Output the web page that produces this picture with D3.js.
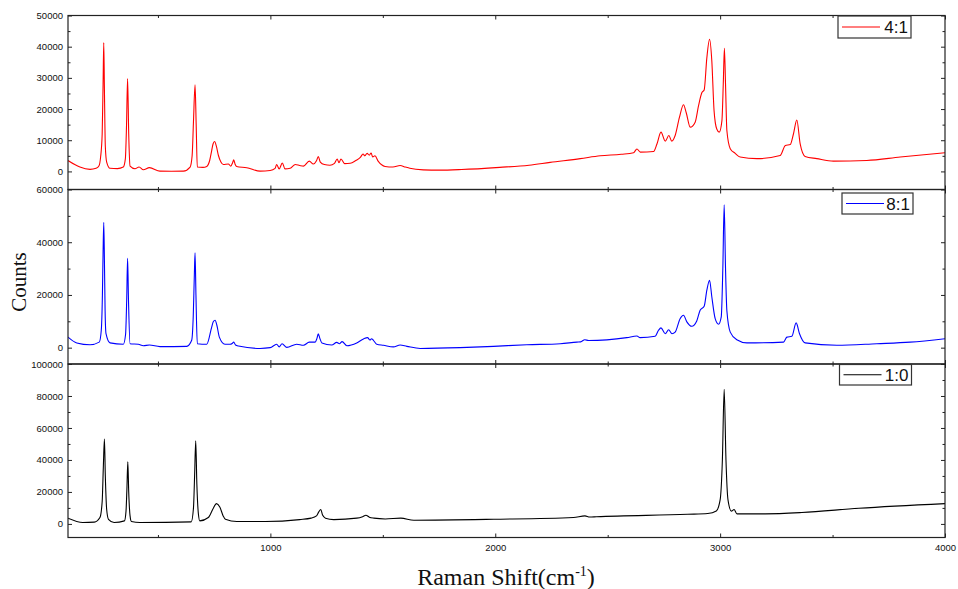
<!DOCTYPE html>
<html>
<head>
<meta charset="utf-8">
<script src="https://cdn.jsdelivr.net/npm/d3@7"></script>
<style>
  html, body { margin: 0; padding: 0; background: #ffffff; }
  svg { display: block; }
  .tick text { font-family: "Liberation Sans", Arial, sans-serif; }
</style>
</head>
<body>
<svg id="chart" width="958" height="589"></svg>
<script>
// ---------------- DATA ----------------
const seriesNames = ["4:1", "8:1", "1:0"];

const shiftRed = [100,130,153,198,225,238,245,252,256,259,262,266,272,287,320,346,355,360,365,370,376,398,416,435,462,509,560,613,643,652,658,665,670,675,700,717,730,739,745,752,760,769,780,791,813,824,832,837,843,850,895,954,999,1021,1028,1039,1053,1065,1088,1111,1130,1147,1173,1191,1205,1213,1222,1240,1265,1285,1297,1305,1314,1330,1355,1380,1400,1412,1420,1430,1440,1448,1455,1465,1480,1510,1545,1577,1600,1620,1680,1750,1850,2020,2150,2244,2378,2467,2560,2615,2630,2645,2704,2719,2737,2756,2772,2785,2800,2819,2837,2849,2867,2889,2904,2919,2929,2941,2953,2963,2973,2985,2996,3008,3014,3019,3024,3030,3045,3067,3089,3164,3267,3290,3312,3326,3341,3356,3378,3430,3504,3652,3801,4000];
const countsRed = [3500,2200,1400,650,1000,1800,4600,12000,28000,41300,26000,8000,3000,1000,900,1400,4000,14000,29800,12000,1700,850,1400,530,1200,100,50,100,1400,5000,16000,27800,15000,1400,1300,1600,3500,6700,8800,9600,8000,5100,3000,2200,2400,1700,2800,3700,2300,1600,1200,100,300,1000,2200,800,2700,800,1000,2200,1900,1700,3300,2400,3400,4800,3000,2200,2000,2600,4000,2800,4000,2500,2600,3500,4500,5600,5000,5800,5200,5900,4600,5000,3200,1600,1400,1900,1400,1000,500,400,600,1300,2000,2900,4100,5000,5500,6000,7200,6200,6400,8800,12600,9700,11500,9700,11500,17300,21400,18900,14200,15800,21100,25300,26100,36500,42400,35500,19500,13600,12600,16300,28000,39500,28000,13100,7300,5800,4600,4100,5100,8300,8600,12000,16500,8800,4800,4100,3300,3500,4600,6000];

const shiftBlue = [100,139,198,239,248,253,256,259,262,265,269,287,346,356,361,365,369,376,413,435,462,509,628,650,657,662,665,669,675,717,739,746,754,762,773,798,821,830,837,845,858,954,999,1028,1039,1052,1073,1117,1147,1173,1199,1207,1213,1220,1229,1273,1295,1307,1319,1340,1384,1414,1432,1443,1450,1458,1473,1503,1547,1577,1607,1666,1844,1992,2140,2289,2363,2380,2398,2415,2585,2630,2644,2711,2726,2737,2756,2771,2786,2800,2822,2837,2852,2874,2896,2911,2929,2941,2953,2963,2978,2993,3005,3012,3018,3024,3030,3045,3074,3119,3282,3297,3319,3338,3353,3378,3519,3697,3845,4000];
const countsBlue = [4000,1800,1100,2100,6600,20000,36000,47500,33000,14000,5300,1800,1300,5000,18000,33900,18000,1500,1300,750,1000,380,500,2800,12000,28000,36000,20000,1500,1300,7800,9800,10400,8500,4000,1300,1300,1600,2100,1000,600,-300,0,1300,300,1500,100,1300,900,2100,2100,3500,5300,3500,1800,1000,2000,1500,2300,750,1800,3300,3800,2900,3400,2800,1300,900,300,1000,500,-300,0,500,1100,1500,2100,2200,3000,2700,3800,4400,3800,4300,6600,7500,5300,6800,5300,5900,11000,12300,9800,8100,10100,14200,15700,21800,25600,19300,11000,8900,11700,30000,54200,30000,14000,5900,3000,1800,2100,4000,4300,9400,5300,1800,900,1500,2100,3400];

const shiftBlack = [100,166,217,242,252,257,262,266,272,280,305,351,358,362,366,370,376,382,420,648,658,663,668,673,680,686,724,745,760,775,790,800,851,978,1130,1181,1205,1215,1224,1232,1245,1282,1384,1410,1425,1440,1460,1511,1580,1638,1993,2348,2399,2420,2450,2856,2945,2983,3000,3010,3018,3026,3035,3050,3062,3075,3200,3363,3617,4000];
const countsBlack = [3600,900,1100,4000,14000,35000,53100,30000,9000,2900,900,1900,8000,22000,38800,20000,5000,1500,900,1300,10000,30000,51900,25000,6000,1900,4000,9500,12700,10600,5000,2900,1500,1500,2700,3600,5000,7500,9000,5500,3600,2700,3600,4500,5400,4200,3600,3100,3600,2300,2900,4000,5000,4300,4500,6000,6500,8100,15000,40000,84200,40000,15000,8000,9000,6300,6300,7100,9800,12700];

const xTickLabels = [1000, 2000, 3000, 4000];
const xMinorTicks = [500, 1500, 2500, 3500];
const yTicksTop = [0, 10000, 20000, 30000, 40000, 50000];
const yTicksMid = [0, 20000, 40000, 60000];
const yTicksBot = [0, 20000, 40000, 60000, 80000, 100000];

// ---------------- LAYOUT ----------------
const svg = d3.select("#chart");
const X0 = 68, X1 = 945;
const x = d3.scaleLinear().domain([100, 4000]).range([X0, X1]);

const panels = [
  { name: seriesNames[0], xs: shiftRed, ys: countsRed, color: "#ff0000",
    domain: [-5800, 50000], top: 15.5, bottom: 189.5, ticks: yTicksTop, minorStep: 5000,
    legend: { x: 838, y: 16, w: 73, h: 22 } },
  { name: seriesNames[1], xs: shiftBlue, ys: countsBlue, color: "#0000ff",
    domain: [-6200, 60000], top: 189.5, bottom: 364, ticks: yTicksMid, minorStep: 10000,
    legend: { x: 842, y: 193, w: 71, h: 21 } },
  { name: seriesNames[2], xs: shiftBlack, ys: countsBlack, color: "#000000",
    domain: [-8500, 100000], top: 364, bottom: 537.5, ticks: yTicksBot, minorStep: 10000,
    legend: { x: 839.5, y: 364.5, w: 72, h: 20.5 } }
];

const defs = svg.append("defs");

panels.forEach((p, i) => {
  const y = d3.scaleLinear().domain(p.domain).range([p.bottom, p.top]);
  const g = svg.append("g");

  defs.append("clipPath").attr("id", "clip" + i)
    .append("rect").attr("x", X0).attr("y", p.top).attr("width", X1 - X0).attr("height", p.bottom - p.top);

  // data line
  const pts = p.xs.map((v, k) => [v, p.ys[k]]);
  const line = d3.line().x(d => x(d[0])).y(d => y(d[1])).curve(d3.curveMonotoneX);
  g.append("path").datum(pts)
    .attr("clip-path", "url(#clip" + i + ")")
    .attr("d", line)
    .attr("fill", "none")
    .attr("stroke", p.color)
    .attr("stroke-width", 1.1)
    .attr("stroke-linejoin", "round");

  // minor y ticks
  const minors = d3.range(p.domain[0] < 0 ? 0 : p.domain[0], p.domain[1] + 1, p.minorStep)
    .filter(v => !p.ticks.includes(v));
  // left axis
  const yAxisL = d3.axisLeft(y).tickValues(p.ticks).tickSizeInner(-4).tickSizeOuter(0).tickPadding(5)
    .tickFormat(d3.format("d"));
  const gl = g.append("g").attr("transform", `translate(${X0},0)`).call(yAxisL);
  gl.select(".domain").remove();
  gl.selectAll(".tick text").attr("font-size", "9.5px").attr("fill", "#111");
  gl.selectAll(".tick line").attr("stroke", "#222");
  const glm = g.append("g").attr("transform", `translate(${X0},0)`)
    .call(d3.axisLeft(y).tickValues(minors).tickSizeInner(-2.5).tickSizeOuter(0).tickFormat(""));
  glm.select(".domain").remove();
  glm.selectAll(".tick line").attr("stroke", "#222");

  // right axis ticks
  const gr = g.append("g").attr("transform", `translate(${X1},0)`)
    .call(d3.axisRight(y).tickValues(p.ticks).tickSizeInner(-4).tickSizeOuter(0).tickFormat(""));
  gr.select(".domain").remove();
  gr.selectAll(".tick line").attr("stroke", "#222");
  const grm = g.append("g").attr("transform", `translate(${X1},0)`)
    .call(d3.axisRight(y).tickValues(minors).tickSizeInner(-2.5).tickSizeOuter(0).tickFormat(""));
  grm.select(".domain").remove();
  grm.selectAll(".tick line").attr("stroke", "#222");

  // bottom x axis ticks (labels only on last panel)
  const isLast = i === panels.length - 1;
  const xb = g.append("g").attr("transform", `translate(0,${p.bottom})`)
    .call(d3.axisBottom(x).tickValues(xTickLabels).tickSizeInner(-4).tickSizeOuter(0).tickPadding(7)
      .tickFormat(isLast ? d3.format("d") : () => ""));
  xb.select(".domain").remove();
  xb.selectAll(".tick line").attr("stroke", "#222");
  xb.selectAll(".tick text").attr("font-size", "9.5px").attr("fill", "#111");
  const xbm = g.append("g").attr("transform", `translate(0,${p.bottom})`)
    .call(d3.axisBottom(x).tickValues(xMinorTicks).tickSizeInner(-2.5).tickSizeOuter(0).tickFormat(""));
  xbm.select(".domain").remove();
  xbm.selectAll(".tick line").attr("stroke", "#222");

  // top x axis ticks
  const xt = g.append("g").attr("transform", `translate(0,${p.top})`)
    .call(d3.axisTop(x).tickValues(xTickLabels).tickSizeInner(-4).tickSizeOuter(0).tickFormat(""));
  xt.select(".domain").remove();
  xt.selectAll(".tick line").attr("stroke", "#222");
  const xtm = g.append("g").attr("transform", `translate(0,${p.top})`)
    .call(d3.axisTop(x).tickValues(xMinorTicks).tickSizeInner(-2.5).tickSizeOuter(0).tickFormat(""));
  xtm.select(".domain").remove();
  xtm.selectAll(".tick line").attr("stroke", "#222");

  // frame
  g.append("rect")
    .attr("x", X0).attr("y", p.top).attr("width", X1 - X0).attr("height", p.bottom - p.top)
    .attr("fill", "none").attr("stroke", "#222").attr("stroke-width", 1.2);

  // legend
  const L = p.legend;
  const lg = g.append("g");
  lg.append("rect").attr("x", L.x).attr("y", L.y).attr("width", L.w).attr("height", L.h)
    .attr("fill", "#fff").attr("stroke", "#333").attr("stroke-width", 1.2);
  lg.append("line").attr("x1", L.x + 4).attr("x2", L.x + 42).attr("y1", L.y + L.h / 2).attr("y2", L.y + L.h / 2)
    .attr("stroke", p.color).attr("stroke-width", 1.2);
  lg.append("text").attr("x", L.x + L.w - 3).attr("y", L.y + L.h / 2 + 6)
    .attr("text-anchor", "end")
    .attr("font-family", "Liberation Sans, Arial, sans-serif")
    .attr("font-size", "17px").attr("fill", "#111")
    .text(p.name);
});

// axis titles
svg.append("text")
  .attr("transform", "translate(26,282) rotate(-90)")
  .attr("text-anchor", "middle")
  .attr("font-family", "Liberation Serif, 'Times New Roman', serif")
  .attr("font-size", "21px").attr("fill", "#111")
  .text("Counts");

const xt = svg.append("text")
  .attr("x", 506).attr("y", 585)
  .attr("text-anchor", "middle")
  .attr("font-family", "Liberation Serif, 'Times New Roman', serif")
  .attr("font-size", "24px").attr("fill", "#111");
xt.append("tspan").text("Raman Shift(cm");
xt.append("tspan").attr("dy", -9).attr("font-size", "14px").text("-1");
xt.append("tspan").attr("dy", 9).text(")");
</script>
</body>
</html>
